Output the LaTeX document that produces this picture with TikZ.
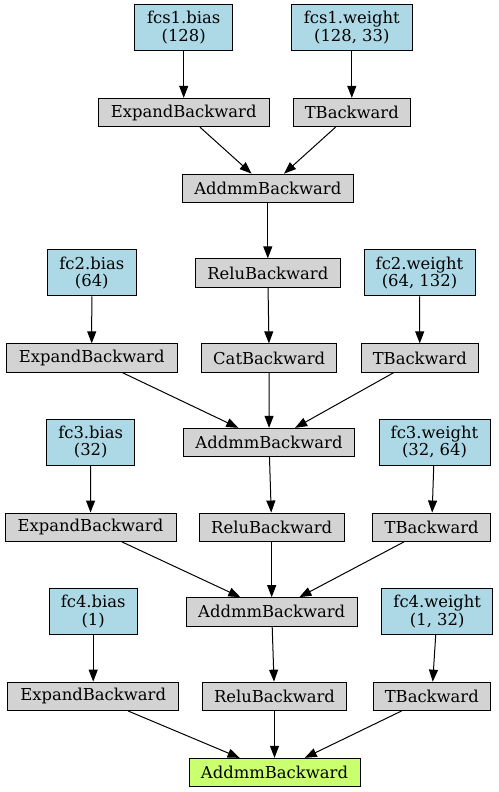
\documentclass[tikz,border=0pt]{standalone}
\usepackage{fontspec}
\setmainfont{DejaVu Serif}
\usepackage{tikz}
\usetikzlibrary{arrows.meta}

\definecolor{paramblue}{RGB}{173,216,230}
\definecolor{opgray}{RGB}{211,211,211}
\definecolor{outgreen}{RGB}{202,255,112}

\tikzset{
  box/.style = {draw = black, line width = 0.9pt, rectangle, align = center, inner sep = 1pt,
                font = \fontsize{16.4}{17.5}\selectfont},
  param/.style = {box, fill = paramblue, minimum height = 46pt},
  op/.style = {box, fill = opgray, minimum height = 28.4pt},
  result/.style = {box, fill = outgreen, minimum height = 28.4pt},
  edge/.style = {line width = 1pt, -{Triangle[length = 12pt, width = 9pt]}}
}

\begin{document}
\begin{tikzpicture}[x = 1pt, y = -1pt]
    \useasboundingbox (0, 0) rectangle (498, 792);

    % first layer
    \node[param, minimum width = 98pt] (p1b) at (183.7, 27.7) {fcs1.bias\\(128)};
    \node[param, minimum width = 120.3pt] (p1w) at (351.8, 27.7) {fcs1.weight\\(128, 33)};
    \node[op, minimum width = 170.7pt] (e1) at (183.7, 112.5) {ExpandBackward};
    \node[op, minimum width = 117.7pt] (t1) at (351.8, 112.5) {TBackward};
    \node[op, minimum width = 171pt] (a1) at (267.8, 188.3) {AddmmBackward};
    \node[op, minimum width = 144.3pt] (r1) at (267.8, 273) {ReluBackward};

    % second layer
    \node[param, minimum width = 88.3pt] (p2b) at (91.8, 272.8) {fc2.bias\\(64)};
    \node[param, minimum width = 111pt] (p2w) at (419.5, 272.8) {fc2.weight\\(64, 132)};
    \node[op, minimum width = 170.7pt] (e2) at (91.7, 358) {ExpandBackward};
    \node[op, minimum width = 135pt] (c2) at (269.2, 358) {CatBackward};
    \node[op, minimum width = 117.7pt] (t2) at (419.8, 358) {TBackward};
    \node[op, minimum width = 170.7pt] (a2) at (269, 442.5) {AddmmBackward};

    % third layer
    \node[param, minimum width = 88pt] (p3b) at (90.7, 442.2) {fc3.bias\\(32)};
    \node[param, minimum width = 111pt] (p3w) at (434.5, 442.2) {fc3.weight\\(32, 64)};
    \node[op, minimum width = 171pt] (e3) at (90.5, 527.2) {ExpandBackward};
    \node[op, minimum width = 144.7pt] (r3) at (271.7, 527.2) {ReluBackward};
    \node[op, minimum width = 118pt] (t3) at (431.7, 527.2) {TBackward};
    \node[op, minimum width = 170.7pt] (a3) at (271.7, 611.8) {AddmmBackward};

    % fourth layer
    \node[param, minimum width = 88.3pt] (p4b) at (93.2, 611.7) {fc4.bias\\(1)};
    \node[param, minimum width = 111pt] (p4w) at (437.2, 611.7) {fc4.weight\\(1, 32)};
    \node[op, minimum width = 171pt] (e4) at (93.2, 696.3) {ExpandBackward};
    \node[op, minimum width = 144.4pt] (r4) at (274.5, 696.3) {ReluBackward};
    \node[op, minimum width = 117.7pt] (t4) at (431.8, 696.3) {TBackward};
    \node[result, minimum width = 171pt] (out) at (274.5, 772.5) {AddmmBackward};

    \foreach \from/\to in {p1b/e1, p1w/t1, e1/a1, t1/a1, a1/r1, r1/c2,
                           p2b/e2, p2w/t2, e2/a2, c2/a2, t2/a2,
                           p3b/e3, p3w/t3, a2/r3, e3/a3, r3/a3, t3/a3,
                           p4b/e4, p4w/t4, a3/r4, e4/out, r4/out, t4/out}
        \draw[edge] (\from) -- (\to);
\end{tikzpicture}
\end{document}
